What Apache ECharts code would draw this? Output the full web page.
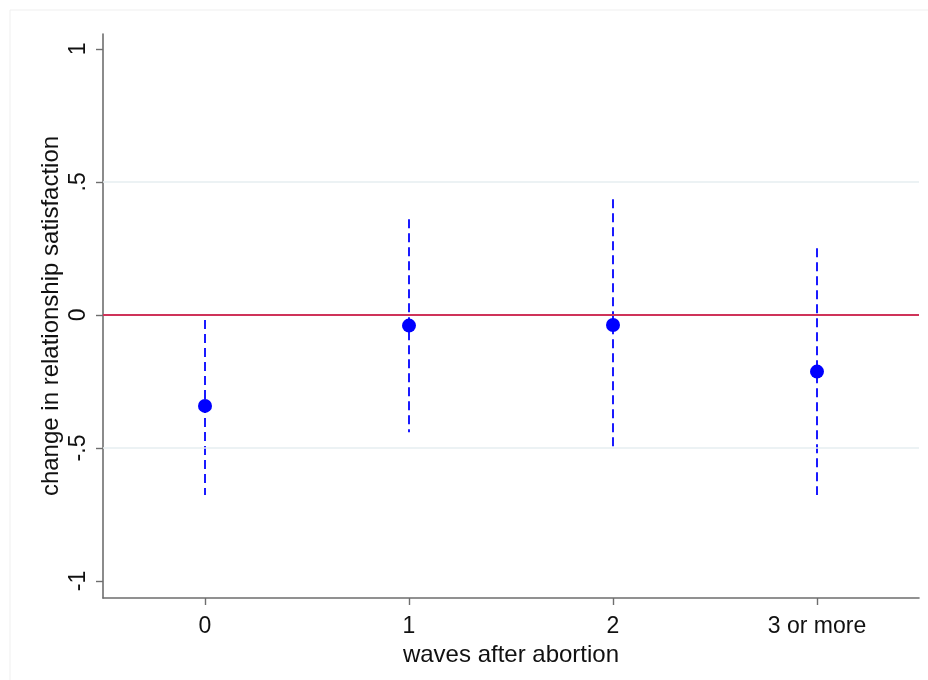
<!DOCTYPE html>
<html>
<head>
<meta charset="utf-8">
<script src="https://cdn.jsdelivr.net/npm/echarts@6/dist/echarts.min.js"></script>
<style>html,body{margin:0;padding:0;background:#fff}#c{width:928px;height:680px}</style>
</head>
<body>
<div id="c"></div>
<script>
var categories = ['0', '1', '2', '3 or more'];
var estimates = [-0.342, -0.040, -0.038, -0.213];
var ciLower = [-0.677, -0.441, -0.510, -0.677];
var ciUpper = [-0.019, 0.360, 0.435, 0.251];
var yTicks = [-1, -0.5, 0, 0.5, 1];
var gridLines = [-0.5, 0.5];
var refLine = 0;

function fmt(v) {
  if (v === 0) return '0';
  var s = String(Math.abs(v)).replace(/^0\./, '.');
  return (v < 0 ? '-' : '') + s;
}

var FONT = 'Liberation Sans, Arial, sans-serif';
var chart = echarts.init(document.getElementById('c'), null, {renderer: 'canvas'});
var ciData = categories.map(function (c, i) { return [i, ciLower[i], ciUpper[i]]; });

chart.setOption({
  animation: false,
  backgroundColor: '#ffffff',
  graphic: [{
    type: 'rect', x: 10, y: 10, shape: {x: 0, y: 0, width: 940, height: 700},
    style: {fill: 'none', stroke: '#efefef', lineWidth: 1}, z: -10
  }],
  grid: {left: 103, right: 9, top: 34, bottom: 82, containLabel: false},
  xAxis: {
    type: 'category',
    data: categories,
    boundaryGap: true,
    name: 'waves after abortion',
    nameLocation: 'middle',
    nameGap: 43,
    nameTextStyle: {fontFamily: FONT, fontSize: 24, color: '#111'},
    axisLine: {onZero: false, lineStyle: {color: '#6e6e6e', width: 1.6}},
    axisTick: {show: true, alignWithLabel: true, length: 7, lineStyle: {color: '#6e6e6e', width: 1.4}},
    axisLabel: {fontFamily: FONT, fontSize: 23, color: '#111', margin: 17},
    splitLine: {show: false}
  },
  yAxis: {
    type: 'value',
    min: -1.064,
    max: 1.056,
    name: 'change in relationship satisfaction',
    nameLocation: 'middle',
    nameRotate: 90,
    nameGap: 40,
    nameMoveOverlap: false,
    nameTextStyle: {fontFamily: FONT, fontSize: 24, color: '#111'},
    axisLine: {show: true, onZero: false, lineStyle: {color: '#6e6e6e', width: 1.6}},
    axisTick: {show: true, length: 7, customValues: yTicks, lineStyle: {color: '#6e6e6e', width: 1.4}},
    axisLabel: {fontFamily: FONT, fontSize: 23, color: '#111', rotate: 90, margin: 13, customValues: yTicks, formatter: fmt},
    splitLine: {show: false}
  },
  series: [
    {
      type: 'line',
      data: [],
      silent: true,
      markLine: {
        symbol: 'none', silent: true, label: {show: false},
        lineStyle: {color: '#e6eef0', width: 1.6, type: 'solid'},
        data: gridLines.map(function (v) { return {yAxis: v}; })
      },
      z: 1
    },
    {
      type: 'line',
      data: [],
      silent: true,
      markLine: {
        symbol: 'none', silent: true, label: {show: false},
        lineStyle: {color: '#cf3359', width: 2.2, type: 'solid'},
        data: [{yAxis: refLine}]
      },
      z: 2
    },
    {
      type: 'custom',
      data: ciData,
      z: 3,
      renderItem: function (params, api) {
        var lo = api.coord([api.value(0), api.value(1)]);
        var hi = api.coord([api.value(0), api.value(2)]);
        return {
          type: 'line',
          shape: {x1: hi[0], y1: hi[1], x2: lo[0], y2: lo[1]},
          style: {stroke: '#1a1aff', lineWidth: 2, lineDash: [9, 5], fill: null}
        };
      },
      encode: {x: 0, y: [1, 2]}
    },
    {
      type: 'scatter',
      data: estimates,
      symbol: 'circle',
      symbolSize: 14,
      itemStyle: {color: '#0000ff', opacity: 1},
      z: 4
    }
  ]
});
</script>
</body>
</html>
